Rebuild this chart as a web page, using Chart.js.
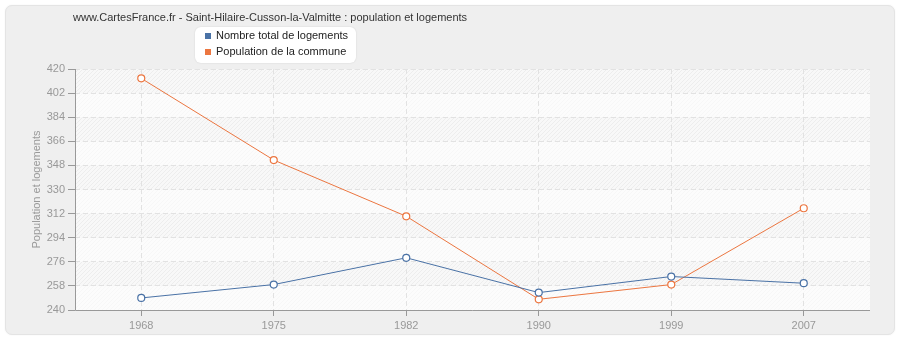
<!DOCTYPE html>
<html>
<head>
<meta charset="utf-8">
<script src="https://cdn.jsdelivr.net/npm/chart.js@4/dist/chart.umd.min.js"></script>
<style>
  html, body { margin: 0; padding: 0; background: #ffffff; }
  #wrap { position: relative; width: 900px; height: 340px; }
  #panel {
    position: absolute; left: 5px; top: 5px; width: 888px; height: 328px;
    background: #efefef; border: 1px solid #e4e4e4; border-radius: 7px;
    box-shadow: 0 0 2px rgba(0,0,0,0.06);
  }
  canvas { position: absolute; left: 0; top: 0; }
</style>
</head>
<body>
<div id="wrap">
  <div id="panel"></div>
  <canvas id="chart" width="900" height="340"></canvas>
</div>
<script>
// Census years and counts
const years = ['1968', '1975', '1982', '1990', '1999', '2007'];
const logements = [249, 259, 279, 253, 265, 260];
const population = [413, 352, 310, 248, 259, 316];
const yTicks = [240, 258, 276, 294, 312, 330, 348, 366, 384, 402, 420];

const titleText = 'www.CartesFrance.fr - Saint-Hilaire-Cusson-la-Valmitte : population et logements';
const FONT = '"Liberation Sans", Arial, sans-serif';
const BLUE = '#4a72a6';
const ORANGE = '#ec7640';

// Plot background: hatched bands, alternating lighter
const plotBackground = {
  id: 'plotBackground',
  beforeDraw(chart) {
    const { ctx, chartArea: a, scales } = chart;
    const y = scales.y;
    ctx.save();
    ctx.beginPath();
    ctx.rect(a.left, a.top, a.right - a.left, a.bottom - a.top);
    ctx.clip();
    ctx.fillStyle = '#f8f8f8';
    ctx.fillRect(a.left, a.top, a.right - a.left, a.bottom - a.top);
    ctx.strokeStyle = 'rgba(0,0,0,0.045)';
    ctx.lineWidth = 1;
    const h = a.bottom - a.top;
    ctx.beginPath();
    for (let x = a.left - h; x < a.right + 5; x += 4) {
      ctx.moveTo(x, a.bottom);
      ctx.lineTo(x + h, a.top);
    }
    ctx.stroke();
    ctx.fillStyle = 'rgba(255,255,255,0.55)';
    for (let i = 0; i < yTicks.length - 1; i += 2) {
      const y0 = y.getPixelForValue(yTicks[i]);
      const y1 = y.getPixelForValue(yTicks[i + 1]);
      ctx.fillRect(a.left, y1, a.right - a.left, y0 - y1);
    }
    ctx.restore();
  },
  beforeDatasetsDraw(chart) {
    const { ctx, chartArea: a } = chart;
    ctx.save();
    ctx.strokeStyle = '#999999';
    ctx.lineWidth = 1;
    ctx.setLineDash([]);
    ctx.beginPath();
    ctx.moveTo(a.left + 0.5, a.top);
    ctx.lineTo(a.left + 0.5, a.bottom + 0.5);
    ctx.lineTo(a.right, a.bottom + 0.5);
    ctx.stroke();
    ctx.restore();
  }
};

// Title and legend box at the top of the panel
const header = {
  id: 'header',
  afterDraw(chart) {
    const { ctx } = chart;
    ctx.save();
    ctx.font = '11px ' + FONT;
    ctx.fillStyle = '#333333';
    ctx.textBaseline = 'middle';
    ctx.textAlign = 'left';
    ctx.fillText(titleText, 73, 18);

    // legend
    const bx = 195, by = 27, bw = 161, bh = 36, r = 6;
    ctx.shadowColor = 'rgba(0,0,0,0.12)';
    ctx.shadowBlur = 2;
    ctx.fillStyle = '#ffffff';
    ctx.beginPath();
    ctx.roundRect(bx, by, bw, bh, r);
    ctx.fill();
    ctx.shadowColor = 'transparent';
    ctx.shadowBlur = 0;
    const rows = [36, 52];
    chart.data.datasets.forEach((ds, i) => {
      ctx.fillStyle = ds.borderColor;
      ctx.fillRect(205, rows[i] - 3, 6, 6);
      ctx.fillStyle = '#222222';
      ctx.fillText(ds.label, 216, rows[i]);
    });
    ctx.restore();
  }
};

new Chart(document.getElementById('chart'), {
  type: 'line',
  data: {
    labels: years,
    datasets: [
      {
        label: 'Nombre total de logements',
        data: logements,
        borderColor: BLUE,
        backgroundColor: '#ffffff',
        borderWidth: 1,
        pointRadius: 3.5,
        pointBorderWidth: 1.2,
        pointBackgroundColor: '#ffffff',
        pointBorderColor: BLUE,
        tension: 0
      },
      {
        label: 'Population de la commune',
        data: population,
        borderColor: ORANGE,
        backgroundColor: '#ffffff',
        borderWidth: 1,
        pointRadius: 3.5,
        pointBorderWidth: 1.2,
        pointBackgroundColor: '#ffffff',
        pointBorderColor: ORANGE,
        tension: 0
      }
    ]
  },
  options: {
    responsive: false,
    animation: false,
    layout: { padding: { left: 26, right: 30, top: 69, bottom: 8 } },
    plugins: {
      legend: { display: false },
      title: { display: false },
      tooltip: { enabled: false }
    },
    scales: {
      x: {
        type: 'category',
        offset: true,
        afterFit(scale) { scale.height = 22; },
        grid: {
          offset: false,
          color: '#e2e2e2',
          lineWidth: 1,
          borderDash: [5, 3],
          tickLength: 6,
          tickColor: '#999999',
          tickBorderDash: []
        },
        border: { display: false, dash: [5, 3] },
        ticks: {
          color: '#999999',
          font: { family: FONT, size: 11 },
          padding: 3,
          maxRotation: 0
        }
      },
      y: {
        min: 240,
        max: 420,
        afterFit(scale) { scale.width = 49; },
        afterBuildTicks(scale) { scale.ticks = yTicks.map(v => ({ value: v })); },
        grid: {
          color: '#e2e2e2',
          lineWidth: 1,
          borderDash: [5, 3],
          tickLength: 7,
          tickColor: '#999999',
          tickBorderDash: []
        },
        border: { display: false, dash: [5, 3] },
        ticks: {
          color: '#999999',
          font: { family: FONT, size: 11 },
          padding: 3,
          autoSkip: false
        },
        title: {
          display: true,
          text: 'Population et logements',
          color: '#999999',
          font: { family: FONT, size: 11 },
          padding: { top: 4, bottom: 4 }
        }
      }
    }
  },
  plugins: [plotBackground, header]
});
</script>
</body>
</html>
